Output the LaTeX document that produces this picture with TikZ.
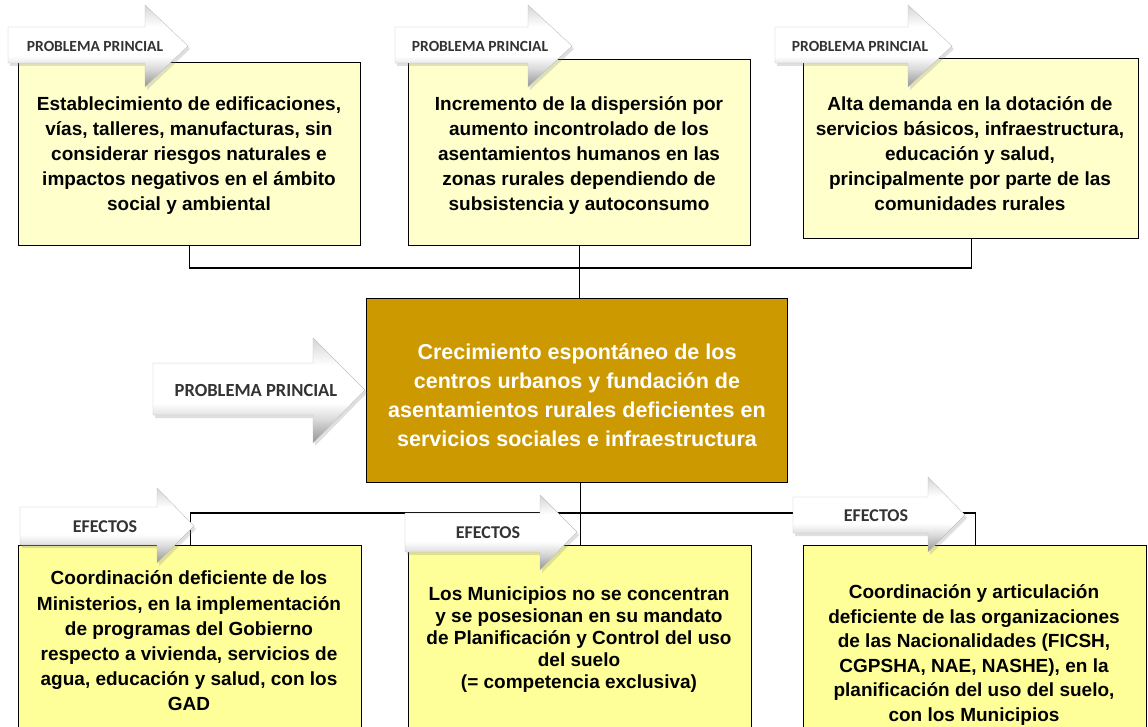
\documentclass[tikz,border=0pt]{standalone}
\usepackage{fontspec}
\setmainfont{Liberation Sans}
\newfontfamily\labfont{Carlito}
\usetikzlibrary{shadows}
\definecolor{paleyellow}{HTML}{FFFFCC}
\definecolor{lemon}{HTML}{FFFF99}
\definecolor{goldbox}{HTML}{CC9900}
\definecolor{labgray}{HTML}{333333}
\pgfdeclareverticalshading{arrowshade}{100bp}{color(0bp)=(black!50); color(26bp)=(black!40); color(36bp)=(black!15); color(44bp)=(white); color(62bp)=(white); color(73bp)=(black!14); color(100bp)=(black!22)}
\begin{document}
\begin{tikzpicture}[x=1pt,y=-1pt,
  box/.style={draw=black, line width=1.4pt, anchor=north west, inner sep=0pt},
  txt/.style={align=center, inner sep=0pt},
  conn/.style={line width=1.3pt, draw=black},
  arr/.style={shading=arrowshade,
    draw=black!25, line width=0.4pt,
    drop shadow={shadow xshift=2pt, shadow yshift=-3pt, opacity=0.25}},
  lab/.style={inner sep=0pt, text=labgray}]
\useasboundingbox (0,0) rectangle (1148,727);
\clip (0,0) rectangle (1148,727);

% boxes
\node[box, fill=paleyellow, minimum width=342pt, minimum height=183pt] (b1) at (18,62) {};
\node[box, fill=paleyellow, minimum width=342pt, minimum height=186pt] (b2) at (408,59) {};
\node[box, fill=paleyellow, minimum width=335pt, minimum height=180pt] (b3) at (803,58) {};
\node[box, fill=goldbox, minimum width=421pt, minimum height=184pt] (c) at (366,298) {};
\node[box, fill=lemon, minimum width=343pt, minimum height=200pt] (e1) at (18,545) {};
\node[box, fill=lemon, minimum width=343pt, minimum height=200pt] (e2) at (408,545) {};
\node[box, fill=lemon, minimum width=343pt, minimum height=200pt] (e3) at (803,545) {};

% connectors
\coordinate (jt) at (579,268);
\coordinate (jb) at (579,513);
\draw[conn] (b1.south) |- (jt) -| (b3.south);
\draw[conn] (b2.south) -- (b2.south |- c.north);
\draw[conn] (e1.north) |- (jb) -| (e3.north);
\draw[conn] (e2.north |- c.south) -- (e2.north);

% texts
\begin{scope}[every node/.append style={font=\bfseries\fontsize{19}{25}\selectfont}]
\node[txt] (t1) at (189,156) {Establecimiento de edificaciones,\\vías, talleres, manufacturas, sin\\considerar riesgos naturales e\\impactos negativos en el ámbito\\social y ambiental};
\node[txt] (t2) at (579,156) {Incremento de la dispersión por\\aumento incontrolado de los\\asentamientos humanos en las\\zonas rurales dependiendo de\\subsistencia y autoconsumo};
\node[txt] (t3) at (970,154) {Alta demanda en la dotación de\\servicios básicos, infraestructura,\\educación y salud,\\principalmente por parte de las\\comunidades rurales};
\node[txt, font=\bfseries\fontsize{19}{25.2}\selectfont] (t4) at (189,641) {Coordinación deficiente de los\\Ministerios, en la implementación\\de programas del Gobierno\\respecto a vivienda, servicios de\\agua, educación y salud, con los\\GAD};
\node[txt, font=\bfseries\fontsize{19}{22}\selectfont] (t5) at (579,640) {Los Municipios no se concentran\\y se posesionan en su mandato\\de Planificación y Control del uso\\del suelo\\(= competencia exclusiva)};
\node[txt, font=\bfseries\fontsize{19}{24.6}\selectfont] (t6) at (974,655) {Coordinación y articulación\\deficiente de las organizaciones\\de las Nacionalidades (FICSH,\\CGPSHA, NAE, NASHE), en la\\planificación del uso del suelo,\\con los Municipios};
\node[txt, text=white, font=\bfseries\fontsize{21.5}{29}\selectfont] (tc) at (577,395) {Crecimiento espontáneo de los\\centros urbanos y fundación de\\asentamientos rurales deficientes en\\servicios sociales e infraestructura};
\end{scope}

% arrows
\path[arr] (8,27) -- (145,27) -- (145,5) -- (188,46) -- (145,87) -- (145,63) -- (8,63) -- cycle;
\path[arr] (395,27) -- (528,27) -- (528,5) -- (572,46) -- (528,87) -- (528,63) -- (395,63) -- cycle;
\path[arr] (775,27) -- (908,27) -- (908,5) -- (952,46) -- (908,87) -- (908,63) -- (775,63) -- cycle;
\path[arr] (153,363) -- (313,363) -- (313,338) -- (365,390) -- (313,443) -- (313,415) -- (153,415) -- cycle;
\path[arr] (20,507) -- (157,507) -- (157,488) -- (194,526) -- (157,563) -- (157,545) -- (20,545) -- cycle;
\path[arr] (405,513) -- (540,513) -- (540,495) -- (577,532) -- (540,570) -- (540,552) -- (405,552) -- cycle;
\path[arr] (793,497) -- (928,497) -- (928,477) -- (965,515) -- (928,552) -- (928,533) -- (793,533) -- cycle;

\begin{scope}[every node/.append style={font=\labfont\bfseries\fontsize{15.5}{18}\selectfont}]
\node[lab] (l1) at (95,46) {PROBLEMA PRINCIAL};
\node[lab] (l2) at (480,46) {PROBLEMA PRINCIAL};
\node[lab] (l3) at (860,46) {PROBLEMA PRINCIAL};
\end{scope}
\node[lab, font=\labfont\bfseries\fontsize{18.5}{22}\selectfont] (lc) at (256,390) {PROBLEMA PRINCIAL};
\begin{scope}[every node/.append style={font=\labfont\bfseries\fontsize{18}{22}\selectfont}]
\node[lab] (l4) at (105,527) {EFECTOS};
\node[lab] (l5) at (488,533) {EFECTOS};
\node[lab] (l6) at (876,516) {EFECTOS};
\end{scope}
\end{tikzpicture}
\end{document}
